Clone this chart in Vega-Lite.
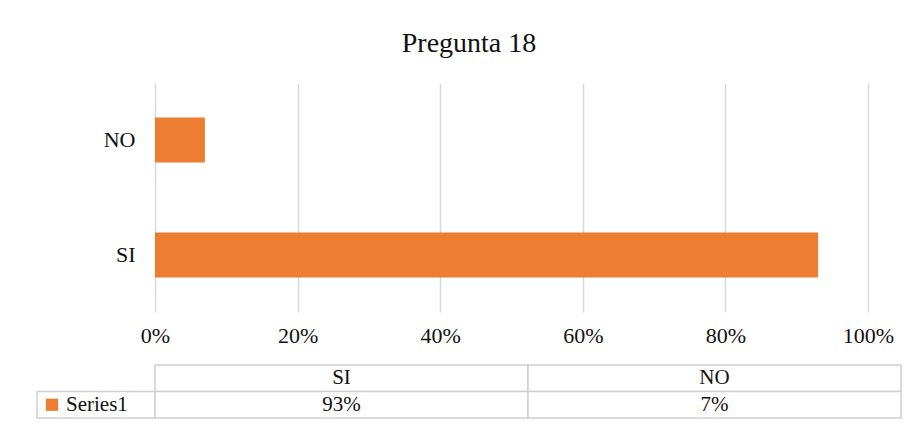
{
  "$schema": "https://vega.github.io/schema/vega-lite/v6.json",
  "padding": {"left": 36, "top": 30, "right": 10, "bottom": 5},
  "background": "white",
  "datasets": {
    "resp": [
      {"categoria": "SI", "valor": 0.93, "serie": "Series1"},
      {"categoria": "NO", "valor": 0.07, "serie": "Series1"}
    ]
  },
  "title": {
    "text": "Pregunta 18",
    "anchor": "middle",
    "font": "Liberation Serif",
    "fontSize": 28,
    "fontWeight": "normal",
    "color": "#111111",
    "offset": 25
  },
  "config": {
    "view": {"stroke": null},
    "font": "Liberation Serif",
    "text": {"font": "Liberation Serif"},
    "axis": {"labelFont": "Liberation Serif", "labelColor": "#111111"}
  },
  "columns": 2,
  "bounds": "flush",
  "spacing": {"row": 53, "column": 0},
  "concat": [
    {
      "width": 118,
      "height": 229,
      "data": {"name": "resp"},
      "mark": {"type": "point", "opacity": 0},
      "encoding": {}
    },
    {
      "width": 713,
      "height": 229,
      "data": {"name": "resp"},
      "mark": {"type": "bar", "color": "#ED7D31"},
      "encoding": {
        "y": {
          "field": "categoria",
          "type": "nominal",
          "sort": ["NO", "SI"],
          "scale": {"paddingInner": 0.61, "paddingOuter": 0.3},
          "axis": {
            "title": null,
            "domain": false,
            "ticks": false,
            "labelFontSize": 22,
            "labelPadding": 20
          }
        },
        "x": {
          "field": "valor",
          "type": "quantitative",
          "scale": {"domain": [0, 1], "nice": false},
          "axis": {
            "title": null,
            "values": [0, 0.2, 0.4, 0.6, 0.8, 1],
            "format": ".0%",
            "domain": false,
            "ticks": false,
            "grid": true,
            "gridColor": "#d9d9d9",
            "gridWidth": 1.5,
            "labelFontSize": 22,
            "labelPadding": 13,
            "labelFlush": false
          }
        },
        "color": {
          "field": "serie",
          "type": "nominal",
          "scale": {"range": ["#ED7D31"]},
          "legend": null
        }
      }
    },
    {
      "width": 118,
      "height": 53,
      "data": {"name": "resp"},
      "transform": [{"aggregate": [], "groupby": ["serie"]}],
      "encoding": {
        "y": {
          "field": "serie",
          "type": "nominal",
          "scale": {"domain": ["hdr", "Series1"], "paddingInner": 0, "paddingOuter": 0},
          "axis": null
        }
      },
      "layer": [
        {
          "mark": {"type": "rect", "fill": "white", "stroke": "#d0d0d0", "strokeWidth": 1.5}
        },
        {
          "mark": {"type": "point", "shape": "square", "filled": true, "size": 150, "opacity": 1, "xOffset": -44},
          "encoding": {
            "color": {"field": "serie", "type": "nominal", "scale": {"range": ["#ED7D31"]}, "legend": null}
          }
        },
        {
          "mark": {"type": "text", "align": "left", "dx": -30, "fontSize": 21, "font": "Liberation Serif", "color": "#111111"},
          "encoding": {"text": {"field": "serie"}}
        }
      ]
    },
    {
      "width": 746,
      "height": 53,
      "data": {"name": "resp"},
      "encoding": {
        "x": {
          "field": "categoria",
          "type": "nominal",
          "sort": ["SI", "NO"],
          "scale": {"paddingInner": 0, "paddingOuter": 0},
          "axis": null
        }
      },
      "layer": [
        {
          "mark": {"type": "rect", "fill": "white", "stroke": "#d0d0d0", "strokeWidth": 1.5},
          "encoding": {
            "y": {"datum": "hdr", "type": "nominal", "scale": {"domain": ["hdr", "Series1"], "paddingInner": 0, "paddingOuter": 0}, "axis": null}
          }
        },
        {
          "mark": {"type": "rect", "fill": "white", "stroke": "#d0d0d0", "strokeWidth": 1.5},
          "encoding": {
            "y": {"field": "serie", "type": "nominal"}
          }
        },
        {
          "mark": {"type": "text", "fontSize": 21, "font": "Liberation Serif", "color": "#111111"},
          "encoding": {
            "y": {"datum": "hdr", "type": "nominal"},
            "text": {"field": "categoria"}
          }
        },
        {
          "mark": {"type": "text", "fontSize": 21, "font": "Liberation Serif", "color": "#111111"},
          "encoding": {
            "y": {"field": "serie", "type": "nominal"},
            "text": {"field": "valor", "format": ".0%"}
          }
        }
      ]
    }
  ]
}
